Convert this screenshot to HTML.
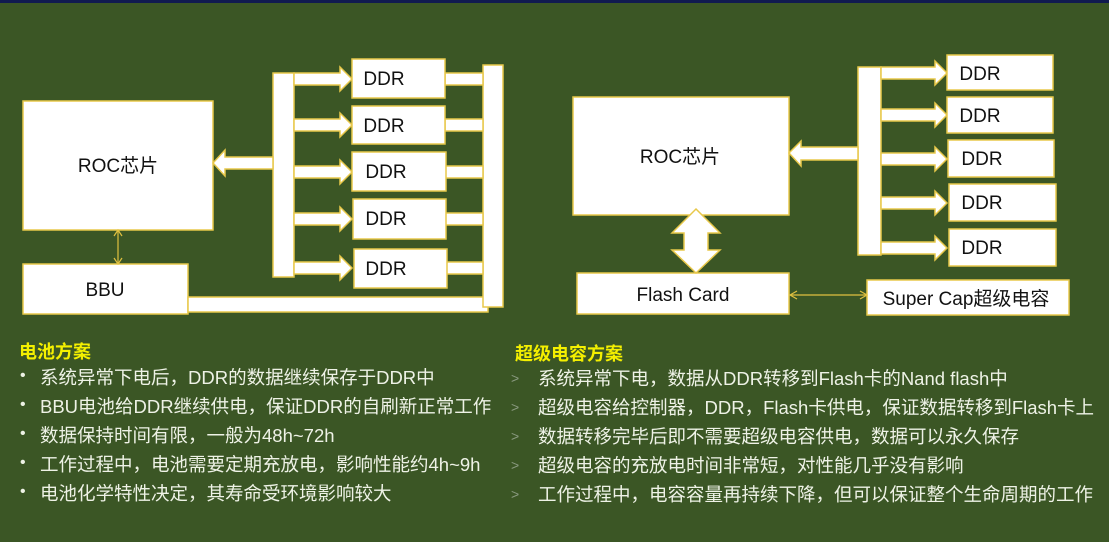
<!DOCTYPE html>
<html><head><meta charset="utf-8"><style>
html,body{margin:0;padding:0}
body{width:1109px;height:542px;background:#3b5625;overflow:hidden;position:relative;font-family:"Liberation Sans","Noto Sans CJK SC",sans-serif}
svg{position:absolute;left:0;top:0}
.t{position:absolute;color:#eef2e6;font-size:18.5px;white-space:nowrap;line-height:20px}
.h{position:absolute;color:#f4f000;font-size:18px;font-weight:bold;white-space:nowrap}
.b{position:absolute;color:#eef2e6;font-size:16px}
.a{position:absolute;color:#8a9a80;font-size:14px}
</style></head><body>
<svg width="1109" height="542" viewBox="0 0 1109 542">
<rect x="0" y="0" width="1109" height="3" fill="#101a50"/>
<g fill="#fff" stroke="#e8c84a" stroke-width="1.5">
<rect x="23" y="101" width="190" height="129"/>
<rect x="23" y="264" width="165" height="50"/>
<rect x="188" y="297" width="300" height="15"/>
<rect x="273" y="73" width="21" height="204"/>
<rect x="483" y="65" width="20" height="242"/>
<polygon points="213,163 225,150 225,157 273,157 273,169 225,169 225,176"/>
<g id="la">
<polygon points="294,73 340,73 340,67 352,79 340,91 340,85 294,85"/>
<rect x="445" y="73" width="38" height="12"/>
</g>
<use href="#la" y="46"/><use href="#la" y="93"/><use href="#la" y="140"/><use href="#la" y="189"/>
<rect x="352" y="59" width="93" height="39"/>
<rect x="352" y="106" width="93" height="38"/>
<rect x="352" y="152" width="94" height="39"/>
<rect x="353" y="199" width="93" height="40"/>
<rect x="354" y="249" width="93" height="39"/>
<rect x="573" y="97" width="216" height="118"/>
<rect x="577" y="273" width="212" height="41"/>
<rect x="867" y="280" width="202" height="35"/>
<polygon points="696,209 720,233 708,233 708,250 720,250 696,273 672,250 684,250 684,233 672,233"/>
<rect x="858" y="67" width="23" height="188"/>
<polygon points="789,153 801,141 801,147 858,147 858,160 801,160 801,166"/>
<g id="ra"><polygon points="881,67 935,67 935,61 947,73 935,85 935,79 881,79"/></g>
<use href="#ra" y="42"/><use href="#ra" y="86"/><use href="#ra" y="130"/><use href="#ra" y="175"/>
<rect x="947" y="55" width="106" height="35"/>
<rect x="947" y="97" width="106" height="36"/>
<rect x="948" y="140" width="106" height="37"/>
<rect x="949" y="184" width="107" height="37"/>
<rect x="949" y="229" width="107" height="37"/>
</g>
<g stroke="#e0c040" stroke-width="1.2" fill="none">
<line x1="118" y1="231" x2="118" y2="263"/>
<polyline points="114,236 118,230 122,236"/><polyline points="114,258 118,264 122,258"/>
<line x1="791" y1="295" x2="866" y2="295"/>
<polyline points="797,291 790,295 797,299"/><polyline points="860,291 867,295 860,299"/>
</g>
<g font-family="Liberation Sans, Noto Sans CJK SC, sans-serif" font-size="19" fill="#111" text-anchor="middle">
<text x="118" y="172">ROC芯片</text>
<text x="105" y="296">BBU</text>
<text x="384" y="85">DDR</text><text x="384" y="132">DDR</text><text x="386" y="178">DDR</text><text x="386" y="225">DDR</text><text x="386" y="275">DDR</text>
<text x="680" y="163">ROC芯片</text>
<text x="683" y="301">Flash Card</text>
<text x="966" y="305">Super Cap超级电容</text>
<text x="980" y="80">DDR</text><text x="980" y="122">DDR</text><text x="982" y="165">DDR</text><text x="982" y="209">DDR</text><text x="982" y="254">DDR</text>
</g>
</svg>
<div class="h" style="left:19px;top:338px">电池方案</div>
<div class="b" style="left:20px;top:367px">•</div><div class="t" style="left:40px;top:368px">系统异常下电后，DDR的数据继续保存于DDR中</div>
<div class="b" style="left:20px;top:396px">•</div><div class="t" style="left:40px;top:397px">BBU电池给DDR继续供电，保证DDR的自刷新正常工作</div>
<div class="b" style="left:20px;top:425px">•</div><div class="t" style="left:40px;top:426px">数据保持时间有限，一般为48h~72h</div>
<div class="b" style="left:20px;top:454px">•</div><div class="t" style="left:40px;top:455px">工作过程中，电池需要定期充放电，影响性能约4h~9h</div>
<div class="b" style="left:20px;top:483px">•</div><div class="t" style="left:40px;top:484px">电池化学特性决定，其寿命受环境影响较大</div>
<div class="h" style="left:515px;top:340px">超级电容方案</div>
<div class="a" style="left:511px;top:370px">&gt;</div><div class="t" style="left:538px;top:369px">系统异常下电，数据从DDR转移到Flash卡的Nand flash中</div>
<div class="a" style="left:511px;top:399px">&gt;</div><div class="t" style="left:538px;top:398px">超级电容给控制器，DDR，Flash卡供电，保证数据转移到Flash卡上</div>
<div class="a" style="left:511px;top:428px">&gt;</div><div class="t" style="left:538px;top:427px">数据转移完毕后即不需要超级电容供电，数据可以永久保存</div>
<div class="a" style="left:511px;top:457px">&gt;</div><div class="t" style="left:538px;top:456px">超级电容的充放电时间非常短，对性能几乎没有影响</div>
<div class="a" style="left:511px;top:486px">&gt;</div><div class="t" style="left:538px;top:485px">工作过程中，电容容量再持续下降，但可以保证整个生命周期的工作</div>
</body></html>
